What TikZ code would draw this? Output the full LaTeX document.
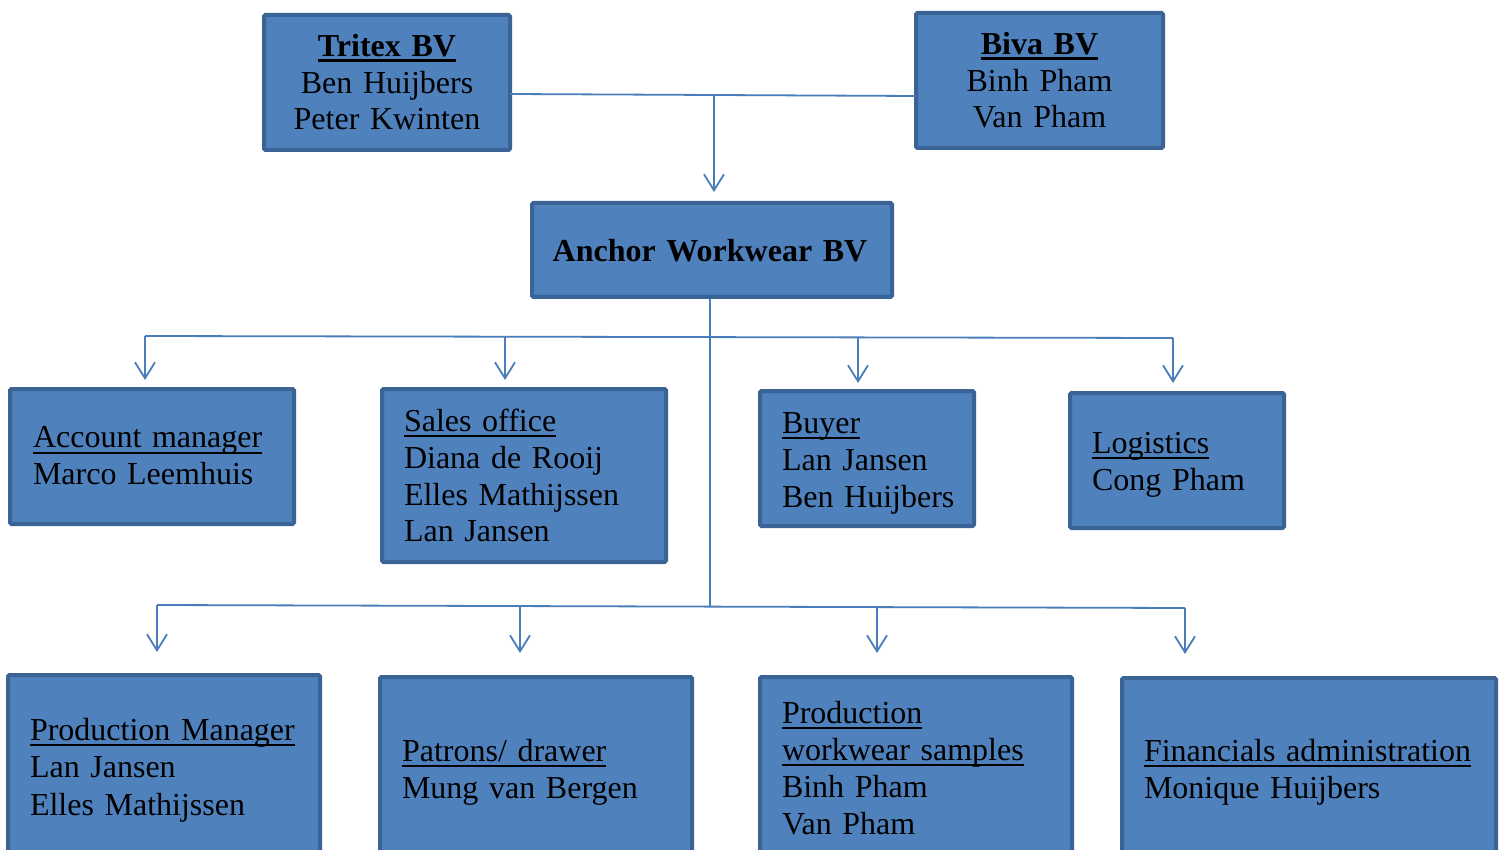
\documentclass[tikz,border=0pt]{standalone}
\usepackage{fontspec}
\setmainfont{Liberation Serif}
\usetikzlibrary{arrows.meta}
\definecolor{boxc}{HTML}{4F81BD}
\definecolor{bordc}{HTML}{3A6396}
\definecolor{linec}{HTML}{4A7EBB}
\newcommand{\ulr}[1]{\leavevmode\vtop{\hbox{\raisebox{0pt}[\height][0pt]{#1}}\kern4pt\hrule height1.8pt}}
\newcommand{\ulb}[1]{\leavevmode\vtop{\hbox{\raisebox{0pt}[\height][0pt]{\bfseries #1}}\kern2.6pt\hrule height3pt}}
\tikzset{
  box/.style={draw=bordc, fill=boxc, line width=4pt, rounded corners=1.5pt, inner sep=0pt, outer sep=0pt},
  txt/.style={inner sep=0pt, outer sep=0pt, font=\fontsize{32}{37}\selectfont, text width=480pt, align=left, anchor=base west},
  ctxt/.style={inner sep=0pt, outer sep=0pt, font=\fontsize{32}{36.4}\selectfont, text width=340pt, align=center, anchor=base},
  conn/.style={draw=linec, line width=1.8pt},
  arr/.style={conn, -{Straight Barb[length=16pt,width=20pt]}}
}
\begin{document}
\begin{tikzpicture}[x=1pt,y=-1pt]
\fill[white] (0,0) rectangle (1505,850);
\clip (0,0) rectangle (1505,850);
% boxes
\node[box, minimum width=246pt, minimum height=135pt] (tritex) at (387,82.5) {};
\node[box, minimum width=247pt, minimum height=135pt] (biva) at (1039.5,80.5) {};
\node[box, minimum width=360pt, minimum height=94pt] (anchor) at (712,250) {};
\node[box, minimum width=284pt, minimum height=135pt] (acc) at (152,456.5) {};
\node[box, minimum width=284pt, minimum height=173pt] (sales) at (524,475.5) {};
\node[box, minimum width=214pt, minimum height=135pt] (buyer) at (867,458.5) {};
\node[box, minimum width=214pt, minimum height=135pt] (logi) at (1177,460.5) {};
\node[box, minimum width=312pt, minimum height=203pt] (pm) at (164,776.5) {};
\node[box, minimum width=312pt, minimum height=201pt] (patrons) at (536,777.5) {};
\node[box, minimum width=312pt, minimum height=201pt] (pws) at (916,777.5) {};
\node[box, minimum width=374pt, minimum height=200pt] (fin) at (1309,778) {};
% texts
\node[ctxt] (t-tritex) at (387,56.7) {\ulb{Tritex BV}\\Ben Huijbers\\Peter Kwinten};
\node[ctxt] (t-biva) at (1039.5,54.7) {\ulb{Biva BV}\\Binh Pham\\Van Pham};
\node[ctxt, font=\fontsize{32}{37}\selectfont\bfseries] (t-anchor) at (710,262) {Anchor Workwear BV};
\node[txt] (t-acc) at (33,447.7) {\ulr{Account manager}\\Marco Leemhuis};
\node[txt] (t-sales) at (404,431) {\ulr{Sales office}\\Diana de Rooij\\Elles Mathijssen\\Lan Jansen};
\node[txt] (t-buyer) at (782,433) {\ulr{Buyer}\\Lan Jansen\\Ben Huijbers};
\node[txt] (t-logi) at (1092,453) {\ulr{Logistics}\\Cong Pham};
\node[txt, font=\fontsize{32}{37.5}\selectfont] (t-pm) at (30,740) {\ulr{Production Manager}\\Lan Jansen\\Elles Mathijssen};
\node[txt] (t-patrons) at (402,761) {\ulr{Patrons/ drawer}\\Mung van Bergen};
\node[txt] (t-pws) at (782,723) {\ulr{Production}\\\ulr{workwear samples}\\Binh Pham\\Van Pham};
\node[txt, font=\fontsize{32}{37.5}\selectfont] (t-fin) at (1144,761) {\ulr{Financials administration}\\Monique Huijbers};
% top connectors
\coordinate (j0) at (714,95);
\draw[conn] (tritex.east |- 0,94) -- (j0) -- (biva.west |- 0,96);
\draw[arr, shorten >=11pt] (j0) -- (j0 |- anchor.north);
% middle
\coordinate (v0) at (710,299);
\coordinate (v2) at (710,607);
\coordinate (a1) at (145,336);
\coordinate (a2) at (505,336.7);
\coordinate (a3) at (858,337.4);
\coordinate (a4) at (1173,338);
\draw[conn] (v0) -- (v2);
\draw[conn] (a1) -- (a4);
\draw[arr, shorten >=9pt] (a1) -- (a1 |- acc.north);
\draw[arr, shorten >=9pt] (a2) -- (a2 |- sales.north);
\draw[arr, shorten >=8pt] (a3) -- (a3 |- buyer.north);
\draw[arr, shorten >=10pt] (a4) -- (a4 |- logi.north);
% bottom
\coordinate (b1) at (157,605);
\coordinate (b2) at (520,606);
\coordinate (b3) at (877,607);
\coordinate (b4) at (1185,608);
\draw[conn] (b1) -- (b4);
\draw[arr, shorten >=23pt] (b1) -- (b1 |- pm.north);
\draw[arr, shorten >=24pt] (b2) -- (b2 |- patrons.north);
\draw[arr, shorten >=24pt] (b3) -- (b3 |- pws.north);
\draw[arr, shorten >=24pt] (b4) -- (b4 |- fin.north);
\end{tikzpicture}
\end{document}
